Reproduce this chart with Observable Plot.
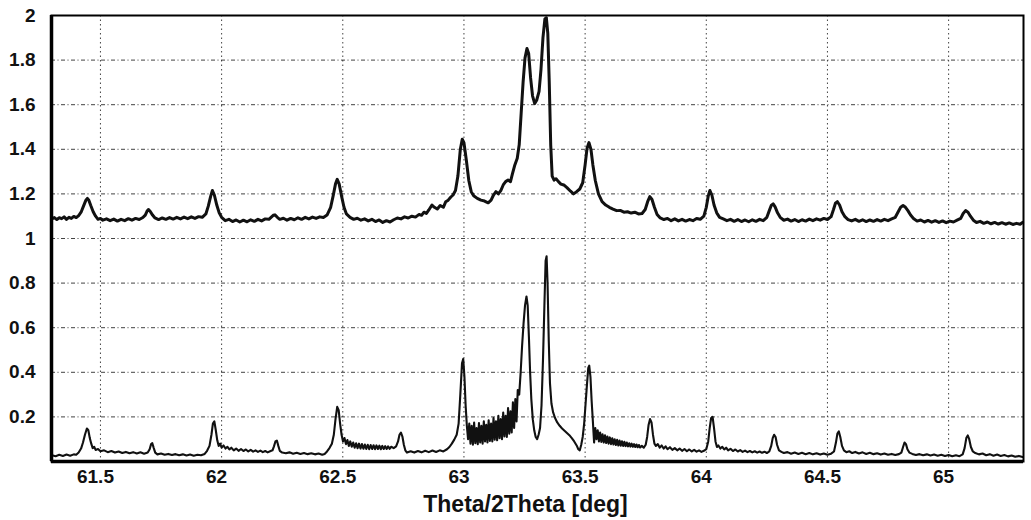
<!DOCTYPE html>
<html><head><meta charset="utf-8">
<script src="https://cdn.jsdelivr.net/npm/d3@7"></script>
<script src="https://cdn.jsdelivr.net/npm/@observablehq/plot@0.6"></script>
<style>
body{margin:0;background:#fff}
#chart svg text{font-weight:700}
#chart svg g[aria-label="x-axis tick label"], #chart svg g[aria-label="y-axis tick label"]{font-size:19px}
</style>
</head><body><div id="chart"></div>
<script>
const xDomain = [61.298, 65.309];
const yDomain = [0, 2];
const xTicks = [61.5, 62, 62.5, 63, 63.5, 64, 64.5, 65];
const yTicks = [0.2, 0.4, 0.6, 0.8, 1, 1.2, 1.4, 1.6, 1.8, 2];
const gridYValues = [0.2, 0.4, 0.6, 0.8, 1, 1.2, 1.4, 1.6, 1.8];
const xLabel = "Theta/2Theta [deg]";

// upper scan: [2theta (deg), intensity]
const upperScan = [
[61.300,1.088],[61.310,1.094],[61.320,1.085],[61.330,1.093],[61.340,1.089],[61.350,1.097],[61.360,1.086],[61.370,1.095],[61.380,1.090],[61.390,1.099],[61.400,1.094],[61.410,1.103],[61.420,1.118],[61.430,1.145],[61.440,1.172],[61.446,1.180],[61.452,1.172],[61.460,1.148],[61.470,1.120],[61.480,1.100],[61.490,1.086],
[61.500,1.090],[61.510,1.082],[61.525,1.088],[61.540,1.080],[61.555,1.087],[61.570,1.078],[61.585,1.086],[61.600,1.080],[61.615,1.089],[61.630,1.082],[61.645,1.090],[61.660,1.085],[61.675,1.094],[61.685,1.105],[61.692,1.122],[61.698,1.130],[61.705,1.122],[61.715,1.105],[61.725,1.092],
[61.740,1.085],[61.755,1.092],[61.770,1.086],[61.785,1.094],[61.800,1.087],[61.815,1.095],[61.830,1.088],[61.845,1.096],[61.860,1.089],[61.875,1.097],[61.890,1.090],[61.905,1.098],[61.920,1.095],[61.935,1.110],[61.945,1.145],[61.955,1.190],[61.962,1.215],[61.970,1.195],[61.980,1.150],[61.990,1.115],
[62.000,1.095],[62.015,1.080],[62.030,1.086],[62.045,1.076],[62.060,1.083],[62.075,1.074],[62.090,1.082],[62.105,1.075],[62.120,1.084],[62.135,1.077],[62.150,1.086],[62.165,1.079],[62.180,1.088],[62.195,1.086],[62.205,1.096],[62.213,1.104],[62.220,1.106],[62.230,1.095],[62.240,1.086],
[62.255,1.091],[62.270,1.082],[62.285,1.090],[62.300,1.084],[62.315,1.093],[62.330,1.086],[62.345,1.095],[62.360,1.088],[62.375,1.096],[62.390,1.090],[62.405,1.097],[62.420,1.094],[62.435,1.105],[62.450,1.140],[62.460,1.190],[62.470,1.245],[62.477,1.265],[62.485,1.245],[62.495,1.190],[62.505,1.140],[62.515,1.110],
[62.530,1.095],[62.545,1.086],[62.560,1.091],[62.575,1.082],[62.590,1.088],[62.605,1.079],[62.620,1.086],[62.635,1.076],[62.650,1.083],[62.665,1.072],[62.680,1.080],[62.695,1.074],[62.710,1.084],[62.725,1.092],[62.740,1.088],[62.755,1.097],[62.770,1.092],[62.785,1.100],
[62.800,1.096],[62.815,1.108],[62.825,1.104],[62.835,1.118],[62.845,1.112],[62.855,1.128],[62.868,1.150],[62.878,1.140],[62.890,1.132],[62.902,1.148],[62.915,1.140],[62.925,1.165],[62.935,1.172],[62.945,1.185],[62.955,1.195],[62.965,1.215],[62.975,1.280],[62.985,1.400],[62.993,1.445],
[63.000,1.430],[63.010,1.350],[63.020,1.260],[63.030,1.210],[63.040,1.192],[63.055,1.180],[63.070,1.172],[63.085,1.168],[63.100,1.160],[63.112,1.172],[63.122,1.195],[63.132,1.210],[63.142,1.200],[63.152,1.215],[63.162,1.240],[63.172,1.255],[63.182,1.262],[63.192,1.255],
[63.200,1.290],[63.210,1.330],[63.220,1.360],[63.228,1.420],[63.236,1.560],[63.244,1.700],[63.252,1.810],[63.260,1.852],[63.267,1.830],[63.275,1.720],[63.283,1.640],[63.292,1.605],[63.300,1.620],[63.310,1.660],[63.318,1.760],[63.326,1.900],[63.334,1.985],[63.340,1.990],[63.346,1.920],[63.352,1.700],[63.358,1.420],[63.364,1.280],
[63.372,1.262],[63.380,1.268],[63.390,1.255],[63.400,1.244],[63.412,1.240],[63.425,1.228],[63.440,1.212],[63.452,1.200],[63.465,1.210],[63.478,1.222],[63.490,1.250],[63.500,1.330],[63.508,1.405],[63.516,1.430],[63.524,1.400],[63.532,1.330],[63.542,1.260],[63.555,1.200],[63.570,1.165],[63.585,1.150],
[63.600,1.140],[63.615,1.132],[63.630,1.125],[63.645,1.126],[63.660,1.118],[63.675,1.120],[63.690,1.114],[63.705,1.118],[63.720,1.110],[63.735,1.112],[63.748,1.130],[63.758,1.165],[63.767,1.188],[63.776,1.175],[63.786,1.140],[63.797,1.108],
[63.810,1.092],[63.825,1.085],[63.840,1.090],[63.855,1.080],[63.870,1.088],[63.885,1.079],[63.900,1.086],[63.915,1.078],[63.930,1.085],[63.945,1.080],[63.960,1.090],[63.975,1.086],[63.990,1.100],[64.000,1.140],[64.008,1.190],[64.015,1.215],[64.023,1.195],[64.032,1.150],[64.043,1.115],[64.055,1.095],
[64.070,1.088],[64.085,1.080],[64.100,1.086],[64.115,1.077],[64.130,1.085],[64.145,1.076],[64.160,1.083],[64.175,1.075],[64.190,1.084],[64.205,1.077],[64.220,1.086],[64.235,1.080],[64.250,1.095],[64.260,1.125],[64.268,1.148],[64.276,1.155],[64.284,1.142],[64.294,1.115],[64.305,1.095],
[64.320,1.082],[64.335,1.087],[64.350,1.078],[64.365,1.085],[64.380,1.076],[64.395,1.084],[64.410,1.078],[64.425,1.087],[64.440,1.080],[64.455,1.088],[64.470,1.082],[64.485,1.090],[64.500,1.085],[64.515,1.098],[64.525,1.130],[64.533,1.158],[64.541,1.165],[64.550,1.150],[64.560,1.120],[64.572,1.098],
[64.585,1.085],[64.600,1.079],[64.615,1.086],[64.630,1.077],[64.645,1.084],[64.660,1.076],[64.675,1.083],[64.690,1.077],[64.705,1.085],[64.720,1.078],[64.735,1.086],[64.750,1.080],[64.765,1.088],[64.780,1.095],[64.792,1.120],[64.802,1.140],[64.812,1.148],[64.822,1.140],[64.832,1.125],[64.843,1.105],[64.855,1.090],
[64.870,1.078],[64.885,1.083],[64.900,1.074],[64.915,1.081],[64.930,1.073],[64.945,1.080],[64.960,1.072],[64.975,1.079],[64.990,1.071],[65.005,1.078],[65.020,1.074],[65.035,1.082],[65.050,1.090],[65.060,1.112],[65.070,1.125],[65.080,1.118],[65.090,1.100],[65.102,1.082],
[65.115,1.072],[65.130,1.077],[65.145,1.068],[65.160,1.074],[65.175,1.066],[65.190,1.072],[65.205,1.065],[65.220,1.071],[65.235,1.064],[65.250,1.070],[65.265,1.063],[65.280,1.068],[65.295,1.064],[65.305,1.072]
];

// lower scan: [2theta (deg), intensity]
const lowerScan = [
[61.300,0.028],[61.315,0.024],[61.330,0.030],[61.345,0.025],[61.360,0.031],[61.375,0.026],[61.390,0.032],[61.400,0.030],[61.410,0.040],[61.420,0.058],[61.428,0.085],[61.436,0.120],[61.444,0.148],[61.450,0.140],[61.456,0.105],[61.462,0.080],[61.468,0.060],[61.474,0.066],[61.480,0.052],[61.490,0.056],
[61.500,0.046],[61.515,0.050],[61.530,0.042],[61.545,0.047],[61.560,0.040],[61.575,0.045],[61.590,0.038],[61.605,0.043],[61.620,0.037],[61.635,0.042],[61.650,0.036],[61.665,0.041],[61.680,0.035],[61.695,0.040],[61.703,0.055],[61.709,0.078],[61.714,0.082],[61.720,0.060],[61.726,0.040],
[61.735,0.032],[61.750,0.036],[61.765,0.030],[61.780,0.034],[61.795,0.029],[61.810,0.033],[61.825,0.028],[61.840,0.032],[61.855,0.027],[61.870,0.031],[61.885,0.026],[61.900,0.030],[61.915,0.028],[61.930,0.034],[61.940,0.048],[61.950,0.070],[61.958,0.120],[61.964,0.170],[61.970,0.180],[61.976,0.140],[61.982,0.095],[61.988,0.070],[61.994,0.080],
[62.000,0.062],[62.008,0.072],[62.016,0.058],[62.024,0.066],[62.032,0.054],[62.040,0.062],[62.050,0.050],[62.060,0.058],[62.070,0.048],[62.080,0.056],[62.090,0.047],[62.100,0.054],[62.110,0.045],[62.120,0.052],[62.130,0.044],[62.140,0.050],[62.150,0.043],[62.160,0.049],[62.170,0.042],[62.180,0.047],[62.190,0.041],[62.200,0.046],
[62.210,0.050],[62.216,0.068],[62.222,0.090],[62.228,0.094],[62.234,0.070],[62.240,0.048],[62.250,0.040],[62.265,0.037],[62.280,0.041],[62.295,0.035],[62.310,0.039],[62.325,0.034],[62.340,0.038],[62.355,0.033],[62.370,0.037],[62.385,0.032],[62.400,0.036],[62.415,0.030],[62.425,0.034],
[62.435,0.045],[62.445,0.060],[62.455,0.080],[62.463,0.120],[62.470,0.190],[62.477,0.245],[62.483,0.230],[62.489,0.170],[62.495,0.120],[62.501,0.090],[62.507,0.105],[62.513,0.078],[62.519,0.096],[62.525,0.070],[62.531,0.090],[62.537,0.066],[62.543,0.085],[62.549,0.062],[62.555,0.082],
[62.561,0.060],[62.567,0.080],[62.573,0.058],[62.579,0.078],[62.585,0.057],[62.591,0.076],[62.597,0.056],[62.603,0.075],[62.609,0.055],[62.615,0.074],[62.621,0.056],[62.627,0.073],[62.633,0.055],[62.639,0.072],[62.645,0.056],[62.651,0.071],[62.657,0.055],[62.663,0.070],[62.669,0.056],[62.675,0.069],[62.681,0.056],[62.687,0.068],[62.693,0.057],
[62.700,0.066],[62.710,0.060],[62.720,0.068],[62.728,0.090],[62.734,0.120],[62.740,0.130],[62.746,0.112],[62.752,0.075],[62.758,0.050],[62.765,0.040],[62.780,0.046],[62.795,0.040],[62.810,0.047],[62.825,0.041],[62.840,0.048],[62.855,0.042],[62.870,0.049],[62.885,0.043],[62.900,0.050],[62.915,0.045],
[62.930,0.055],[62.940,0.065],[62.950,0.080],[62.960,0.098],[62.970,0.120],[62.978,0.170],[62.985,0.300],[62.992,0.440],[62.997,0.460],[63.002,0.380],[63.007,0.250],[63.012,0.160],[63.017,0.100],
[63.022,0.170],[63.027,0.080],[63.032,0.160],[63.037,0.075],[63.042,0.175],[63.047,0.082],[63.052,0.150],[63.057,0.078],[63.062,0.172],[63.067,0.085],[63.072,0.160],[63.077,0.080],[63.082,0.180],[63.087,0.090],[63.092,0.165],[63.097,0.085],[63.102,0.185],[63.107,0.092],[63.112,0.170],[63.117,0.090],
[63.122,0.195],[63.127,0.098],[63.132,0.180],[63.137,0.095],[63.142,0.205],[63.147,0.105],[63.152,0.190],[63.157,0.100],[63.162,0.220],[63.167,0.112],[63.172,0.205],[63.177,0.110],[63.182,0.240],[63.187,0.125],[63.192,0.225],[63.197,0.130],[63.202,0.265],[63.207,0.150],[63.212,0.280],[63.217,0.180],
[63.222,0.320],[63.228,0.300],[63.234,0.400],[63.240,0.520],[63.246,0.620],[63.252,0.700],[63.258,0.740],[63.263,0.700],[63.268,0.560],[63.273,0.400],[63.278,0.280],[63.284,0.190],[63.290,0.140],[63.296,0.110],[63.302,0.100],[63.308,0.120],[63.314,0.150],[63.320,0.250],
[63.326,0.450],[63.332,0.700],[63.337,0.900],[63.341,0.920],[63.345,0.800],[63.350,0.540],[63.355,0.350],[63.361,0.260],[63.368,0.220],[63.376,0.195],[63.385,0.175],[63.395,0.160],[63.405,0.148],[63.415,0.138],[63.425,0.128],[63.435,0.118],[63.445,0.105],[63.455,0.090],[63.465,0.072],[63.472,0.055],[63.478,0.050],
[63.484,0.075],[63.490,0.110],[63.496,0.170],[63.502,0.260],[63.508,0.350],[63.513,0.420],[63.517,0.430],[63.522,0.380],[63.527,0.270],[63.532,0.180],[63.537,0.085],[63.542,0.150],[63.547,0.100],[63.552,0.140],[63.557,0.090],[63.562,0.130],[63.567,0.088],[63.572,0.122],[63.577,0.085],[63.582,0.118],
[63.587,0.083],[63.592,0.112],[63.597,0.080],[63.602,0.108],[63.607,0.078],[63.612,0.104],[63.617,0.076],[63.622,0.100],[63.627,0.074],[63.632,0.097],[63.637,0.072],[63.642,0.094],[63.647,0.071],[63.652,0.091],[63.657,0.070],[63.662,0.088],[63.667,0.069],[63.672,0.085],[63.677,0.068],[63.682,0.082],
[63.687,0.067],[63.692,0.080],[63.697,0.066],[63.702,0.078],[63.707,0.065],[63.712,0.076],[63.717,0.064],[63.722,0.074],[63.727,0.063],[63.734,0.070],[63.742,0.062],[63.750,0.075],[63.756,0.110],[63.762,0.165],[63.768,0.190],[63.774,0.175],[63.780,0.120],[63.786,0.080],[63.792,0.070],
[63.800,0.078],[63.808,0.062],[63.816,0.072],[63.824,0.058],[63.832,0.068],[63.840,0.055],[63.850,0.064],[63.860,0.052],[63.870,0.060],[63.880,0.050],[63.890,0.058],[63.900,0.048],[63.910,0.056],[63.920,0.046],[63.930,0.054],[63.940,0.045],[63.950,0.052],[63.960,0.044],[63.970,0.050],[63.980,0.043],[63.990,0.048],
[64.000,0.055],[64.008,0.090],[64.014,0.150],[64.020,0.195],[64.026,0.200],[64.032,0.150],[64.038,0.090],[64.044,0.065],[64.050,0.072],[64.058,0.058],[64.066,0.066],[64.074,0.054],[64.082,0.062],[64.090,0.050],[64.100,0.057],[64.110,0.047],[64.120,0.054],[64.130,0.045],[64.140,0.051],[64.150,0.043],
[64.160,0.049],[64.170,0.042],[64.180,0.047],[64.190,0.041],[64.200,0.046],[64.210,0.040],[64.220,0.045],[64.230,0.039],[64.240,0.044],[64.250,0.038],[64.260,0.045],[64.268,0.070],[64.274,0.105],[64.280,0.120],[64.286,0.110],[64.292,0.075],[64.300,0.050],[64.310,0.043],[64.320,0.038],
[64.335,0.042],[64.350,0.035],[64.365,0.040],[64.380,0.034],[64.395,0.039],[64.410,0.033],[64.425,0.038],[64.440,0.032],[64.455,0.037],[64.470,0.031],[64.485,0.036],[64.500,0.030],[64.515,0.035],[64.527,0.045],[64.535,0.085],[64.541,0.125],[64.547,0.135],[64.553,0.110],[64.560,0.070],[64.568,0.050],
[64.578,0.042],[64.590,0.046],[64.602,0.038],[64.615,0.043],[64.630,0.036],[64.645,0.041],[64.660,0.034],[64.675,0.039],[64.690,0.033],[64.705,0.037],[64.720,0.031],[64.735,0.036],[64.750,0.030],[64.765,0.034],[64.780,0.029],[64.795,0.033],[64.805,0.040],[64.812,0.065],[64.818,0.085],[64.824,0.078],[64.830,0.055],[64.838,0.040],
[64.850,0.034],[64.865,0.029],[64.880,0.033],[64.895,0.028],[64.910,0.032],[64.925,0.027],[64.940,0.031],[64.955,0.026],[64.970,0.030],[64.985,0.025],[65.000,0.029],[65.015,0.024],[65.030,0.028],[65.045,0.024],[65.058,0.032],[65.066,0.060],[65.073,0.105],[65.079,0.117],[65.085,0.100],[65.092,0.065],
[65.100,0.045],[65.110,0.038],[65.125,0.032],[65.140,0.036],[65.155,0.028],[65.170,0.033],[65.185,0.026],[65.200,0.031],[65.215,0.025],[65.230,0.029],[65.245,0.023],[65.260,0.027],[65.275,0.021],[65.290,0.025],[65.305,0.020]
];

const fmt = d => String(d);

const chart = Plot.plot({
  width: 1031,
  height: 520,
  marginLeft: 51,
  marginRight: 8,
  marginTop: 15,
  marginBottom: 59,
  style: {fontFamily: "'Liberation Sans', Arial, sans-serif", fontSize: "19px", background: "white", color: "#111"},
  x: {domain: xDomain},
  y: {domain: yDomain},
  marks: [
    Plot.gridX(xTicks, {stroke: "#222", strokeOpacity: 0.85, strokeWidth: 1, strokeDasharray: "1.5,3"}),
    Plot.gridY(gridYValues, {stroke: "#222", strokeOpacity: 0.85, strokeWidth: 1, strokeDasharray: "4,2.5,1,2.5"}),
    Plot.line(upperScan, {x: d => d[0], y: d => d[1], stroke: "#111", strokeWidth: 3, strokeLinejoin: "round"}),
    Plot.line(lowerScan, {x: d => d[0], y: d => d[1], stroke: "#111", strokeWidth: 2.1, strokeLinejoin: "round"}),
    Plot.frame({stroke: "#000", strokeWidth: 2}),
    Plot.ruleY([yDomain[0]], {stroke: "#000", strokeWidth: 3.5}),
    Plot.ruleX([xDomain[0]], {stroke: "#000", strokeWidth: 3.5}),
    Plot.axisX(xTicks, {tickSize: 0, tickPadding: 8, fontSize: 19, fontWeight: "bold", dx: -5, label: null, tickFormat: fmt}),
    Plot.axisY(yTicks, {tickSize: 0, tickPadding: 16, fontSize: 19, fontWeight: "bold", label: null, tickFormat: fmt}),
    Plot.text([xLabel], {text: d => d, frameAnchor: "bottom", lineAnchor: "middle", dy: 43, dx: -12, fontSize: 23, fontWeight: "bold", fill: "#111"})
  ]
});
document.getElementById("chart").append(chart);
</script>
</body></html>
